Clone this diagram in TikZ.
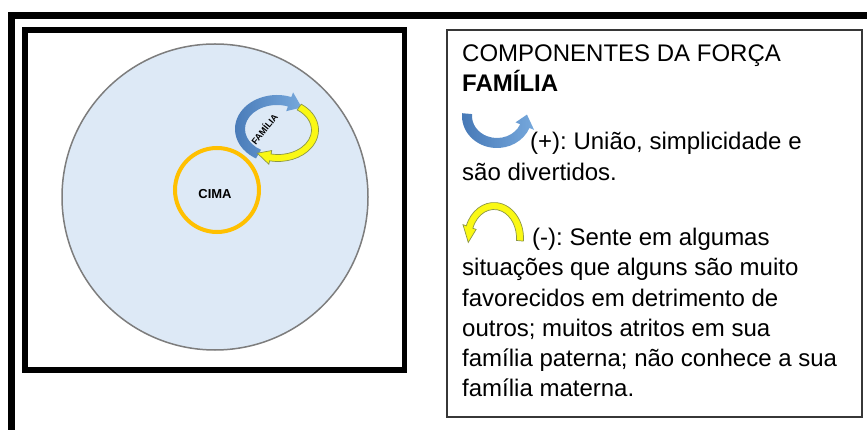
\documentclass[tikz,border=0pt]{standalone}
\usepackage{fontspec}
\setmainfont{Liberation Sans}
\usepackage{tikz}
\definecolor{fundo}{RGB}{221,233,246}
\definecolor{anel}{RGB}{255,192,0}
\definecolor{azul}{RGB}{70,120,182}
\definecolor{azulclaro}{RGB}{118,168,220}
\definecolor{amarelo}{RGB}{250,248,20}
\definecolor{oliva}{RGB}{140,150,70}
\definecolor{contorno}{RGB}{125,125,125}
\definecolor{moldura}{RGB}{55,55,55}
\frenchspacing

% seta curva: estilo, cx, cy, rx, ry, inicio, fim, ponta, meia largura
\newcommand{\setacurva}[9]{%
  \path[#1] ({#2+(#4+#9)*cos(#6)},{#3+(#5+#9)*sin(#6)})
    arc[start angle=#6,end angle=#7,x radius=#4+#9,y radius=#5+#9]
    -- ({#2+(#4+2*#9)*cos(#7)},{#3+(#5+2*#9)*sin(#7)})
    -- ({#2+#4*cos(#8)},{#3+#5*sin(#8)})
    -- ({#2+(#4-2*#9)*cos(#7)},{#3+(#5-2*#9)*sin(#7)})
    -- ({#2+(#4-#9)*cos(#7)},{#3+(#5-#9)*sin(#7)})
    arc[start angle=#7,end angle=#6,x radius=#4-#9,y radius=#5-#9]
    -- cycle;}

\begin{document}
\begin{tikzpicture}[x=1pt,y=-1pt,
    txt/.style={anchor=base west,inner sep=0pt,font=\fontsize{24}{30}\selectfont},
    setaazul/.style={left color=azul,right color=azulclaro},
    setaamarela/.style={fill=amarelo,draw=oliva,line width=0.7}]
  \useasboundingbox (0,0) rectangle (867,430);
  \draw[line width=7](867,16)--(11,16)--(11,430);
  \draw[line width=5.5](25,30) rectangle (404.5,370);
  \draw[contorno,fill=fundo,line width=1.5](215,197) circle[radius=153];
  \draw[anel,line width=4](217,190) circle[radius=42];
  \node[font=\fontsize{13}{13}\selectfont\bfseries] (cima) at (215,194){CIMA};
  \setacurva{setaazul}{277}{129}{37}{29}{120}{290}{312}{5}
  \setacurva{setaamarela}{278}{130}{37}{28}{-55}{102}{124}{3.5}
  \node[font=\fontsize{9}{9}\selectfont\bfseries,rotate=51,inner sep=0pt] (familia) at (264,129){FAMÍLIA};
  \draw[moldura,line width=1.2](447,30) rectangle (862,417);
  \node[txt] (titulo) at (462,62){COMPONENTES DA FORÇA};
  \node[txt,font=\fontsize{24}{30}\selectfont\bfseries] (forca) at (462,92){FAMÍLIA};
  \setacurva{setaazul}{497}{116}{30}{27}{185}{22}{-3}{5}
  \node[txt] (mais) at (530,150){(+): União, simplicidade e};
  \node[txt] (mais2) at (462,181){são divertidos.};
  \setacurva{setaamarela}{494}{238}{26}{32}{5}{-160}{-188}{3.5}
  \node[txt] (menos) at (532,246){(-): Sente em algumas};
  \foreach \t [count=\i] in {situações que alguns são muito,favorecidos em detrimento de,outros; muitos atritos em sua,família paterna; não conhece a sua,família materna.}
    \node[txt] (menos\i) at (462,{246+30*\i}){\t};
\end{tikzpicture}
\end{document}
